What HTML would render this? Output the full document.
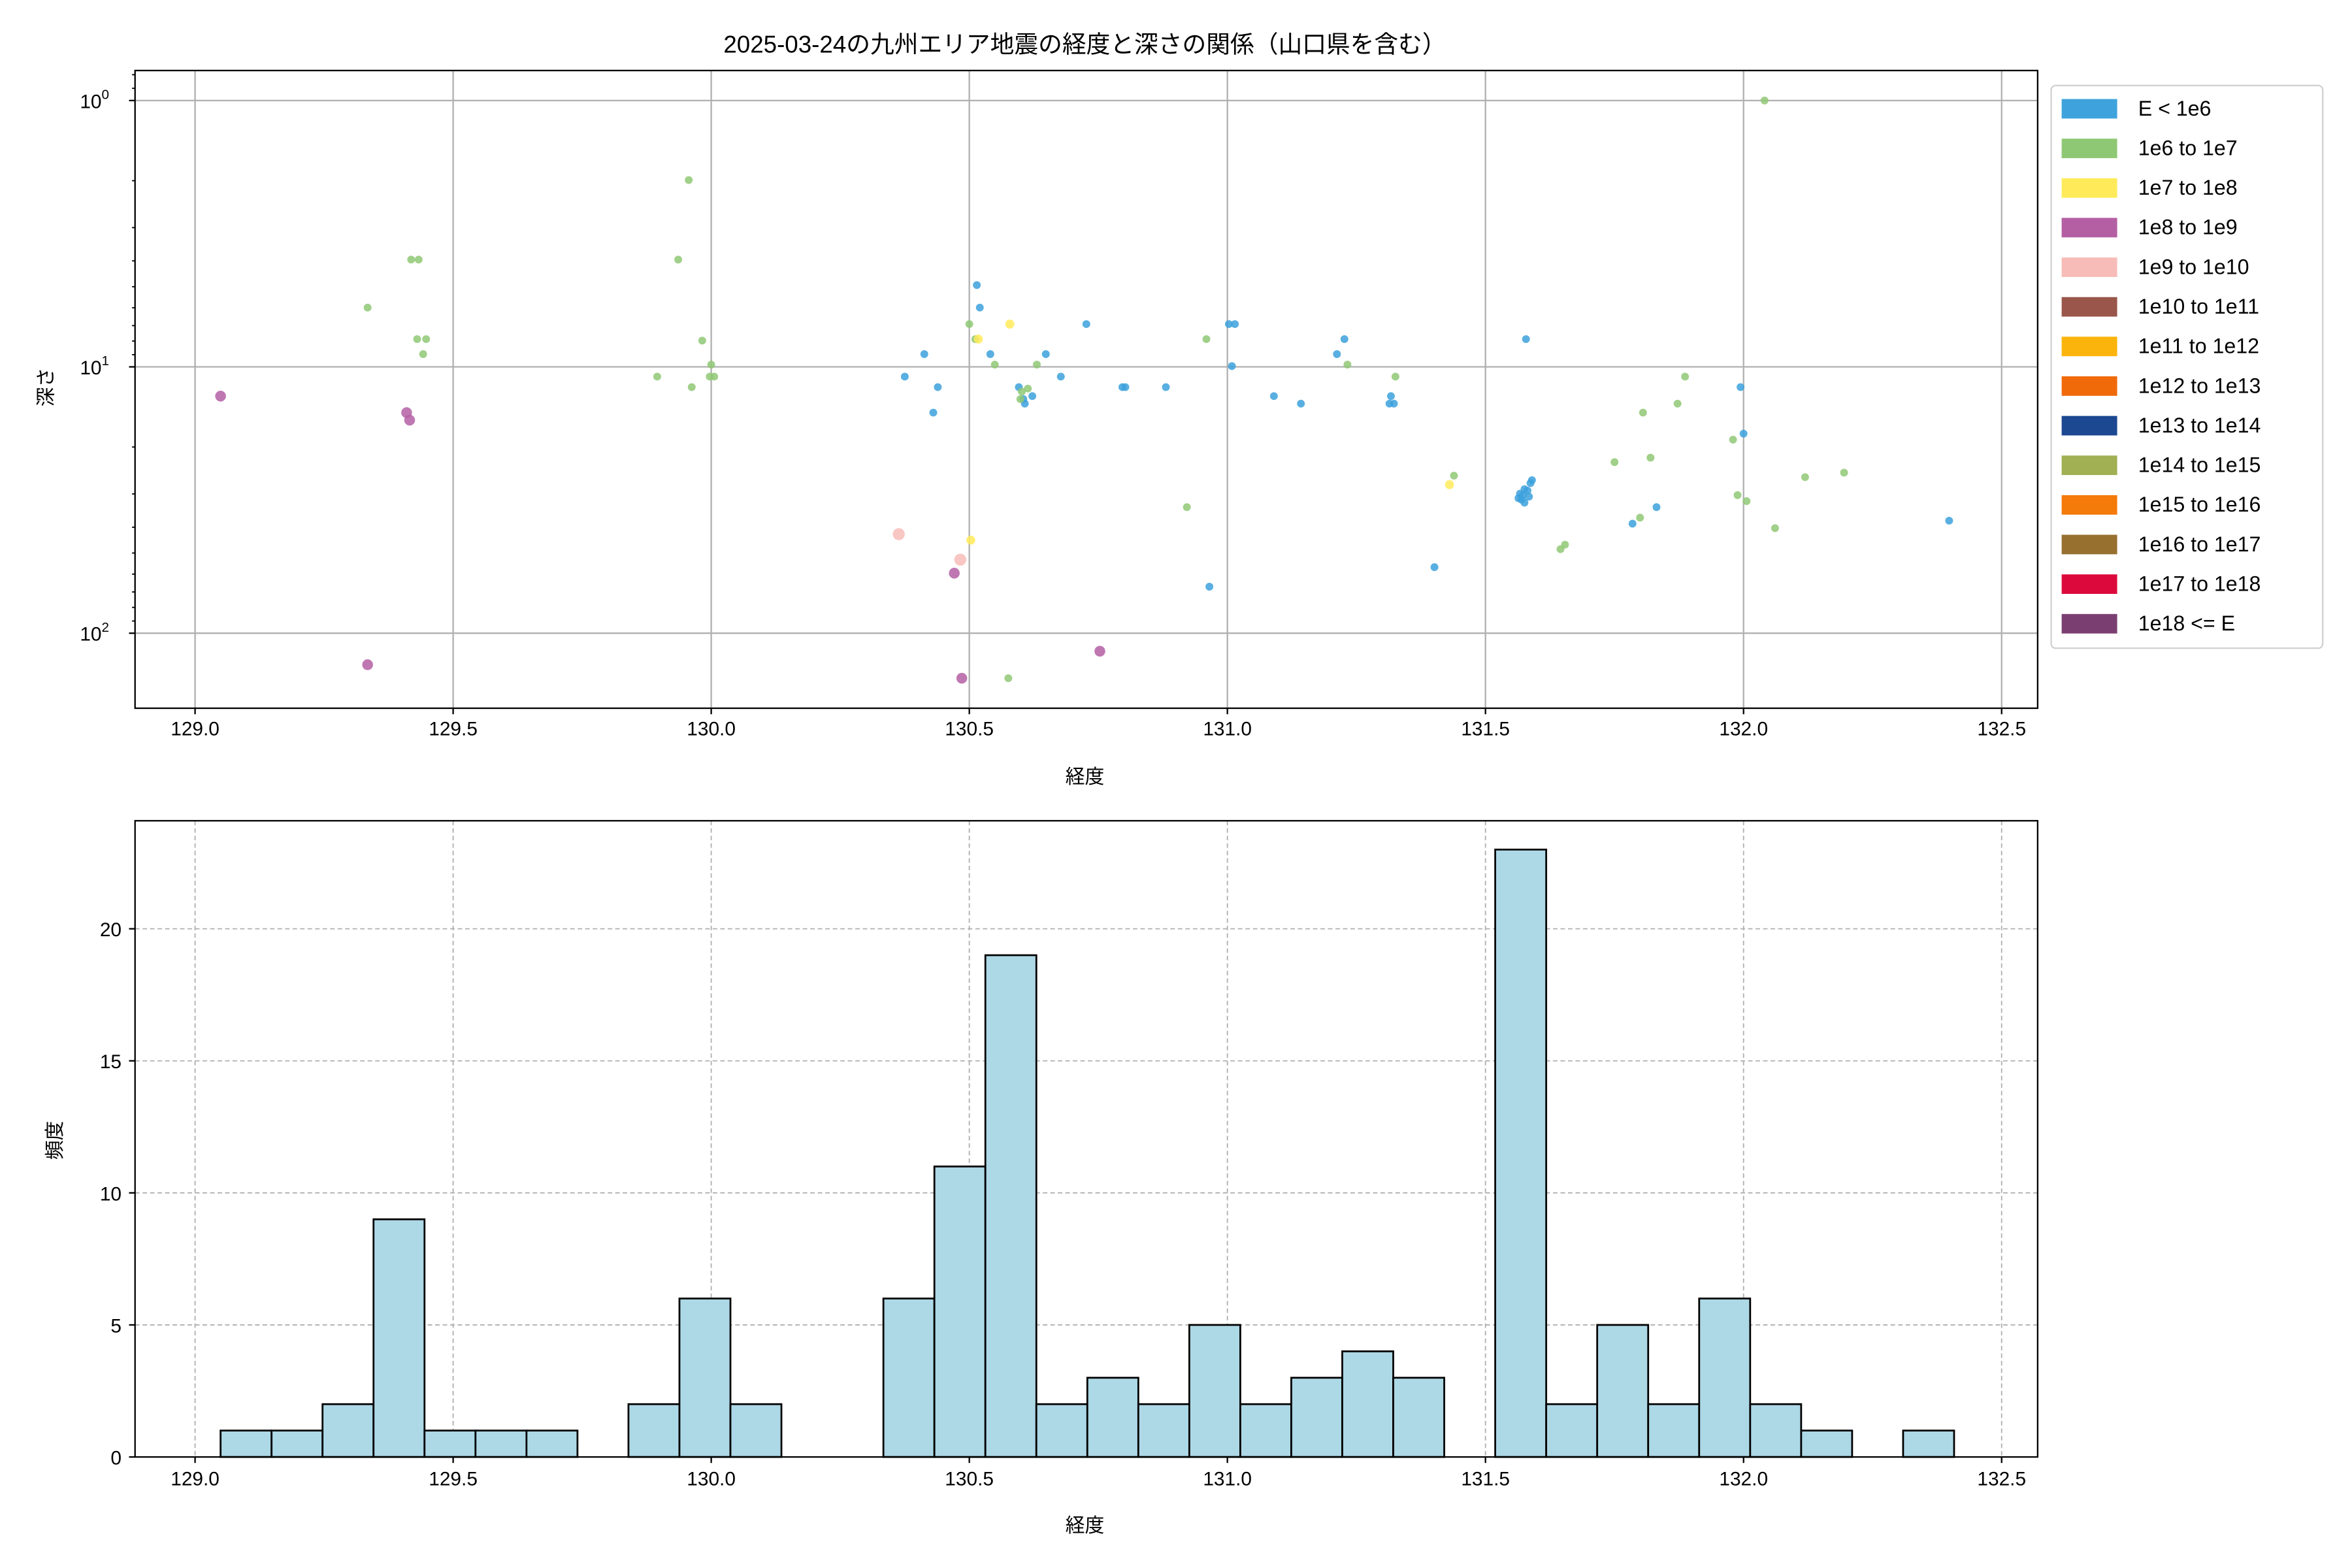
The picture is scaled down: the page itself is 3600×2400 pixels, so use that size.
<!DOCTYPE html>
<html><head><meta charset="utf-8"><style>
html,body{margin:0;padding:0;background:#fff}
svg{display:block}
text{font-family:"Liberation Sans","Noto Sans CJK JP",sans-serif;fill:#000}
</style></head><body>
<svg id="s" xmlns="http://www.w3.org/2000/svg" width="3600" height="2400" viewBox="0 0 1567.5 1045">
<rect width="1567.5" height="1045" fill="#fff"/>
<g id="g"></g>
</svg>
<script>
const g=document.getElementById('g');let h='';
const X=v=>130+(v-129)*344;
for(let i=0;i<8;i++){const x=X(129+i*0.5);h+=`<line x1="${x}" y1="47" x2="${x}" y2="472" stroke="#b0b0b0" stroke-width="1"/>`;
h+=`<line x1="${x}" y1="472" x2="${x}" y2="476" stroke="#000"/><text x="${x}" y="490" font-size="13" text-anchor="middle">${(129+i*0.5).toFixed(1)}</text>`;}
const Y=d=>67+Math.log10(d)*177.5;
[[1,'0'],[10,'1'],[100,'2']].forEach(([d,e])=>{const y=Y(d);h+=`<line x1="90" y1="${y}" x2="1358" y2="${y}" stroke="#b0b0b0"/><line x1="86" y1="${y}" x2="90" y2="${y}" stroke="#000"/><text x="63" y="${y+5}" font-size="13" text-anchor="middle">10<tspan font-size="9" dy="-6">${e}</tspan></text>`;});
[0.6,0.7,0.8,0.9,2,3,4,5,6,7,8,9,20,30,40,50,60,70,80,90,200].forEach(d=>{const y=Y(d);if(y>47&&y<472)h+=`<line x1="88" y1="${y}" x2="90" y2="${y}" stroke="#000" stroke-width="0.8"/>`;});
const C={b:'#3ca1dc',g:'#8fc874',y:'#ffeb5a',p:'#b45fa4',k:'#f7bcb8'};
const P={p:[[147,264],[271,275],[273,280],[245,443],[636,382],[641,452],[733,434]],
k:[[599,356],[640,373]],
y:[[673,216],[652,226],[647,360],[966,323]],
g:[[245,205],[274,173],[279,173],[278,226],[284,226],[282,236],[459,120],[452,173],[468,227],[438,251],[461,258],[474,243],[476,251],[473,251],[646,216],[650,226],[663,243],[691,243],[681,261],[685,259],[680,266],[804,226],[898,243],[930,251],[791,338],[969,317],[1040,366],[1043,363],[1176,67],[1076,308],[1095,275],[1100,305],[1118,269],[1123,251],[1155,293],[1158,330],[1164,334],[1183,352],[1203,318],[1229,315],[1093,345],[672,452]],
b:[[651,190],[653,205],[660,236],[616,236],[603,251],[625,258],[622,275],[697,236],[707,251],[724,216],[679,258],[682,266],[683,269],[688,264],[748,258],[750,258],[777,258],[819,216],[823,216],[821,244],[849,264],[867,269],[891,236],[896,226],[927,264],[929,269],[926,269],[806,391],[956,378],[1017,226],[1012,332],[1015,330],[1018,327],[1020,322],[1016,335],[1014,333],[1021,320],[1013,329],[1016,326],[1019,331],[1088,349],[1104,338],[1160,258],[1162,289],[1299,347]]};
const R={b:2.6,g:2.6,y:3,p:3.6,k:4};
for(const k of ['b','g','y','p','k'])P[k].forEach(([x,y])=>h+=`<circle cx="${x}" cy="${y}" r="${R[k]}" fill="${C[k]}" fill-opacity="0.85"/>`);
h+=`<rect x="90" y="47" width="1268" height="425" fill="none" stroke="#000" stroke-width="1"/>`;
const L=[['#3ea3dc','E < 1e6'],['#8fc874','1e6 to 1e7'],['#ffeb5a','1e7 to 1e8'],['#b45fa4','1e8 to 1e9'],['#f7bcb8','1e9 to 1e10'],['#9a564b','1e10 to 1e11'],['#fbb40b','1e11 to 1e12'],['#f06a0a','1e12 to 1e13'],['#1c4891','1e13 to 1e14'],['#a0b052','1e14 to 1e15'],['#f47a0a','1e15 to 1e16'],['#97702f','1e16 to 1e17'],['#dc0a3c','1e17 to 1e18'],['#7a3f70','1e18 <= E']];
h+=`<rect x="1367" y="57" width="181" height="375" rx="3" fill="#fff" stroke="#d0d0d0"/>`;
L.forEach(([c,t],i)=>{const y=72+i*26.4;h+=`<rect x="1374" y="${y-6}" width="37" height="13" fill="${c}"/><text x="1425" y="${y+5}" font-size="14">${t}</text>`;});
h+=`<text x="723" y="35" font-size="16" text-anchor="middle">2025-03-24の九州エリア地震の経度と深さの関係（山口県を含む）</text>`;
h+=`<text x="723" y="522" font-size="13" text-anchor="middle">経度</text>`;
h+=`<text transform="translate(35,258) rotate(-90)" font-size="13" text-anchor="middle">深さ</text>`;
const B=[1,1,2,9,1,1,1,0,2,6,2,0,0,6,11,19,2,3,2,5,2,3,4,3,0,23,2,5,2,6,2,1,0,1];
for(let i=0;i<8;i++){const x=X(129+i*0.5);h+=`<line x1="${x}" y1="547" x2="${x}" y2="971" stroke="#b0b0b0" stroke-dasharray="3,2" stroke-width="0.8"/><line x1="${x}" y1="971" x2="${x}" y2="975" stroke="#000"/><text x="${x}" y="990" font-size="13" text-anchor="middle">${(129+i*0.5).toFixed(1)}</text>`;}
[0,5,10,15,20].forEach(v=>{const y=971-v*17.6;h+=`<line x1="90" y1="${y}" x2="1358" y2="${y}" stroke="#b0b0b0" stroke-dasharray="3,2" stroke-width="0.8"/><line x1="86" y1="${y}" x2="90" y2="${y}" stroke="#000"/><text x="81" y="${y+5}" font-size="13" text-anchor="end">${v}</text>`;});
B.forEach((v,i)=>{if(v>0){const x=147+i*33.98;h+=`<rect x="${x}" y="${971-v*17.6}" width="33.98" height="${v*17.6}" fill="#add8e6" stroke="#000" stroke-width="1.2"/>`;}});
h+=`<rect x="90" y="547" width="1268" height="424" fill="none" stroke="#000" stroke-width="1"/>`;
h+=`<text x="723" y="1021" font-size="13" text-anchor="middle">経度</text>`;
h+=`<text transform="translate(41,760) rotate(-90)" font-size="13" text-anchor="middle">頻度</text>`;
g.innerHTML=h;
</script>
</body></html>
